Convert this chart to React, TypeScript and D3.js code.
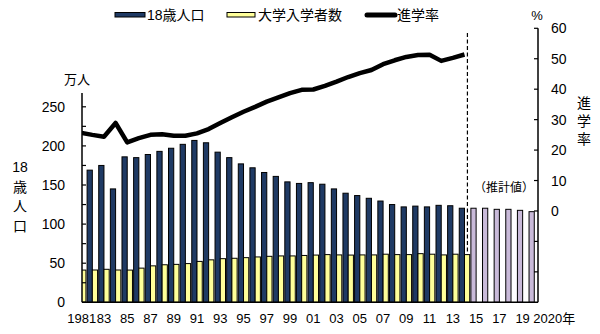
import React from 'react';
import * as d3 from 'd3';

// ---- data ----
const years = [
  1981, 1982, 1983, 1984, 1985, 1986, 1987, 1988, 1989, 1990,
  1991, 1992, 1993, 1994, 1995, 1996, 1997, 1998, 1999, 2000,
  2001, 2002, 2003, 2004, 2005, 2006, 2007, 2008, 2009, 2010,
  2011, 2012, 2013, 2014, 2015, 2016, 2017, 2018, 2019, 2020,
];
const actualYears = years.slice(0, 34); // 1981-2014
const projYears = [2015, 2016, 2017, 2018, 2019, 2020];

// 18歳人口 (万人) 1981-2014 (1981 bar hidden behind the axis)
const population: (number | null)[] = [
  null, 169, 175, 145, 186, 185, 189, 193, 197, 202,
  207, 204, 192, 185, 177, 172, 166, 161, 154, 152,
  153, 151, 145, 139.5, 136.5, 133, 129.5, 125, 122, 123,
  122, 124, 123.5, 120.3,
];
// 18歳人口 推計値 2015-2020
const projected = [120.3, 120.3, 118.9, 118.9, 117.6, 115.9];
// 大学入学者数 (万人) 1981-2014
const entrants = [
  41.2, 41.3, 42.2, 41.3, 41.2, 43.7, 46.6, 48.0, 48.5, 49.5,
  52.3, 54.3, 55.8, 56.3, 57.1, 58.0, 58.8, 59.3, 59.3, 59.9,
  60.4, 61.0, 60.6, 60.4, 60.6, 60.6, 61.5, 61.0, 61.0, 62.2,
  61.5, 60.6, 61.5, 61.0,
];
// 進学率 (%) 1981-2014
const enrollmentRate = [
  25.7, 25.0, 24.4, 28.9, 22.5, 23.9, 25.0, 25.2, 24.7, 24.7,
  25.5, 26.9, 28.9, 30.8, 32.6, 34.2, 35.9, 37.3, 38.7, 39.8,
  39.9, 41.1, 42.5, 44.0, 45.3, 46.3, 48.2, 49.5, 50.6, 51.2,
  51.3, 49.3, 50.3, 51.4,
];
const xLabelYears = [
  1981, 1983, 1985, 1987, 1989, 1991, 1993, 1995, 1997, 1999,
  2001, 2003, 2005, 2007, 2009, 2011, 2013, 2015, 2017, 2019, 2020,
];
const xLabels = [
  '1981', '83', '85', '87', '89', '91', '93', '95', '97', '99',
  '01', '03', '05', '07', '09', '11', '13', '15', '17', '19', '2020年',
];
const leftTicks = [0, 25, 50, 75, 100, 125, 150, 175, 200, 225, 250];
const leftLabels = [0, 50, 100, 150, 200, 250];
const rightTicks = [-20, -10, 0, 10, 20, 30, 40, 50, 60];
const rightLabels = [0, 10, 20, 30, 40, 50, 60];

// ---- layout ----
const W = 600;
const H = 334;
const plotLeft = 82;
const plotRight = 538;
const plotBottom = 302.3;
const step = 11.63;
const firstCenter = 80.7;

const COL_BLUE = '#1f3a64';
const COL_YELLOW = '#ffff99';
const COL_PURPLE = '#c9bad9';
const FONT = '"Liberation Sans", Arial, "Noto Sans CJK JP", sans-serif';

export default function App() {
  const x = d3
    .scaleBand<number>()
    .domain(years)
    .range([firstCenter - step / 2, firstCenter - step / 2 + step * years.length])
    .paddingInner(0.1)
    .paddingOuter(0.05);
  const sub = d3
    .scaleBand<string>()
    .domain(['pop', 'ent'])
    .range([0, x.bandwidth()]);
  const center = (yr: number) => (x(yr) as number) + x.bandwidth() / 2;

  const yL = d3.scaleLinear().domain([0, 250]).range([plotBottom, 106.8]);
  const yR = d3.scaleLinear().domain([-30, 60]).range([plotBottom, 28.3]);

  const line = d3
    .line<number>()
    .x((_, i) => center(actualYears[i]))
    .y((d) => yR(d))
    .curve(d3.curveLinear);

  const dashX = center(2014) + x.bandwidth() * 0.28;

  return (
    <svg
      width={W}
      height={H}
      style={{ position: 'absolute', left: 0, top: 0, background: '#fff' }}
      fontFamily={FONT}
    >
      <defs>
        <clipPath id="plotClip">
          <rect x={plotLeft} y={0} width={plotRight - plotLeft} height={plotBottom} />
        </clipPath>
      </defs>

      {/* bars */}
      <g clipPath="url(#plotClip)">
        {actualYears.map((yr, i) => {
          const v = population[i];
          const x0 = x(yr) as number;
          return (
            <g key={yr}>
              {v !== null && (
                <rect
                  x={x0 + (sub('pop') as number)}
                  y={yL(v)}
                  width={sub.bandwidth()}
                  height={plotBottom - yL(v)}
                  fill={COL_BLUE}
                  stroke="#000"
                  strokeWidth={1}
                />
              )}
              <rect
                x={x0 + (sub('ent') as number)}
                y={yL(entrants[i])}
                width={sub.bandwidth()}
                height={plotBottom - yL(entrants[i])}
                fill={COL_YELLOW}
                stroke="#000"
                strokeWidth={1}
              />
            </g>
          );
        })}
        {projYears.map((yr, i) => (
          <rect
            key={yr}
            x={(x(yr) as number) + (sub('pop') as number)}
            y={yL(projected[i])}
            width={sub.bandwidth()}
            height={plotBottom - yL(projected[i])}
            fill={COL_PURPLE}
            stroke="#000"
            strokeWidth={1}
          />
        ))}
        <path
          d={line(enrollmentRate) || ''}
          fill="none"
          stroke="#000"
          strokeWidth={4.5}
          strokeLinejoin="round"
        />
      </g>

      {/* dashed divider */}
      <line
        x1={dashX}
        x2={dashX}
        y1={33}
        y2={yL(entrants[entrants.length - 1])}
        stroke="#000"
        strokeWidth={1.2}
        strokeDasharray="4,2.5"
      />
      <text x={504} y={192} fontSize={12} textAnchor="middle" fill="#000">
        （推計値）
      </text>

      {/* left axis */}
      <line x1={plotLeft} x2={plotLeft} y1={plotBottom} y2={93} stroke="#000" strokeWidth={1.5} />
      {leftTicks.map((t) => (
        <line key={t} x1={plotLeft} x2={plotLeft + 4} y1={yL(t)} y2={yL(t)} stroke="#000" strokeWidth={1.2} />
      ))}
      {leftLabels.map((t) => (
        <text key={t} x={65} y={yL(t) + 5} fontSize={14} textAnchor="end" fill="#000">
          {t}
        </text>
      ))}
      <text x={77} y={84} fontSize={13} textAnchor="middle">万人</text>
      {['18', '歳', '人', '口'].map((c, i) => (
        <text key={c} x={20} y={172 + i * 19.5} fontSize={14} textAnchor="middle">
          {c}
        </text>
      ))}

      {/* right axis */}
      <line x1={plotRight} x2={plotRight} y1={28.3} y2={plotBottom} stroke="#000" strokeWidth={1.5} />
      {rightTicks.map((t) => (
        <line key={t} x1={plotRight - 4} x2={plotRight} y1={yR(t)} y2={yR(t)} stroke="#000" strokeWidth={1.2} />
      ))}
      {rightLabels.map((t) => (
        <text key={t} x={551} y={yR(t) + 5} fontSize={14} textAnchor="start" fill="#000">
          {t}
        </text>
      ))}
      <text x={537} y={20} fontSize={13} textAnchor="middle">%</text>
      {['進', '学', '率'].map((c, i) => (
        <text key={c} x={584} y={108 + i * 18} fontSize={14} textAnchor="middle">
          {c}
        </text>
      ))}

      {/* bottom axis */}
      <line x1={plotLeft} x2={plotRight} y1={plotBottom} y2={plotBottom} stroke="#000" strokeWidth={1.5} />
      {xLabelYears.map((yr, i) => {
        const isLast = yr === 2020;
        return (
          <text
            key={yr}
            x={isLast ? center(yr) - 1 : center(yr) + (yr === 1981 ? 1 : 0)}
            y={323}
            fontSize={13}
            textAnchor={isLast ? 'start' : 'middle'}
            fill="#000"
          >
            {xLabels[i]}
          </text>
        );
      })}

      {/* legend */}
      <rect x={115} y={12.5} width={30} height={4.5} fill={COL_BLUE} stroke="#000" strokeWidth={1} />
      <text x={147} y={20} fontSize={14}>18歳人口</text>
      <rect x={227} y={12.5} width={28} height={4.5} fill={COL_YELLOW} stroke="#000" strokeWidth={1} />
      <text x={258} y={20} fontSize={14}>大学入学者数</text>
      <line x1={367} x2={395} y1={15} y2={15} stroke="#000" strokeWidth={5} strokeLinecap="round" />
      <text x={397} y={20} fontSize={14}>進学率</text>
    </svg>
  );
}
